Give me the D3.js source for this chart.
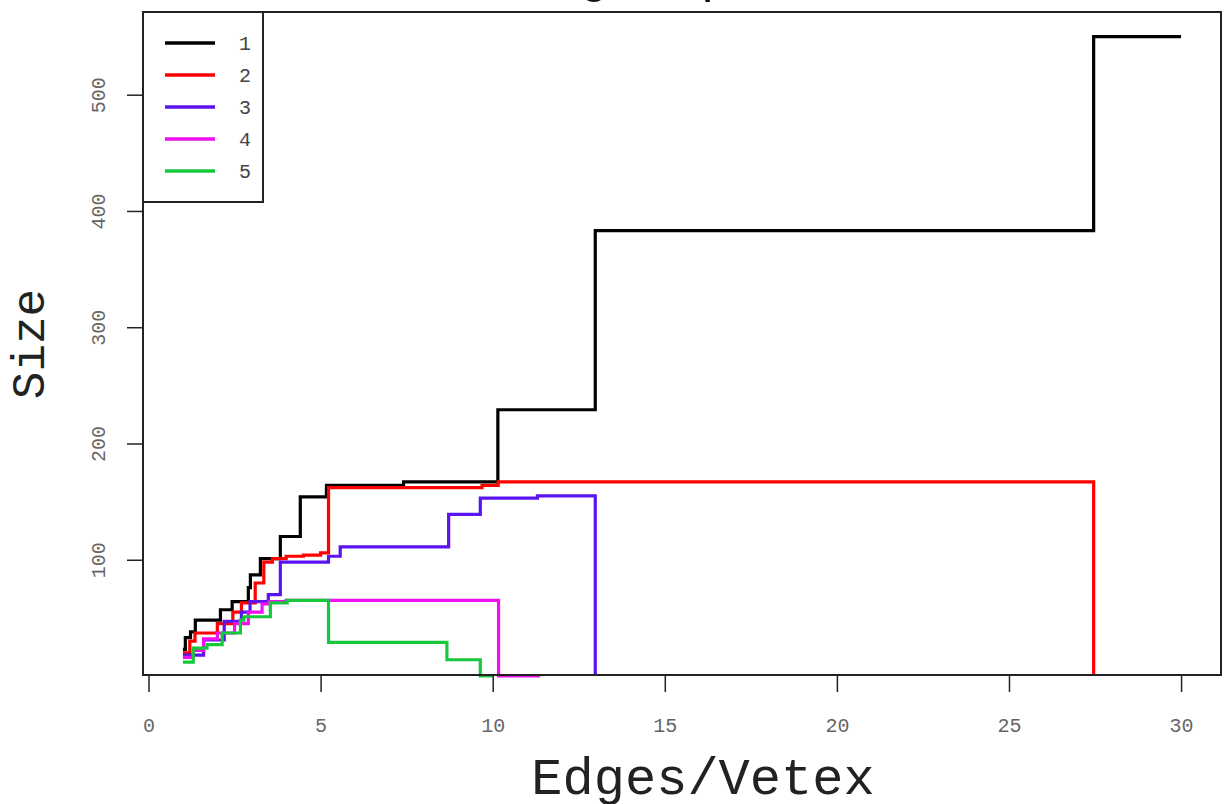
<!DOCTYPE html>
<html>
<head>
<meta charset="utf-8">
<script src="https://cdn.jsdelivr.net/npm/d3@7"></script>
<style>
  body { margin: 0; background: #fff; }
  text { font-family: "Liberation Mono", "DejaVu Sans Mono", monospace; }
</style>
</head>
<body>
<div class="chart"></div>
<script>
// series data: step start points (x = edges/vertex, y = size)
var s1x = [1.0, 1.07, 1.22, 1.36, 2.09, 2.43, 2.9, 2.96, 3.25, 3.83, 4.41, 5.17, 7.41, 10.15, 12.98, 27.46, 30];
var s1y = [23, 33, 38, 48, 57, 64, 76, 87, 101, 120, 154, 164, 167, 229, 383, 550, 550];

var s2x = [1.0, 1.2, 1.35, 2.0, 2.45, 2.7, 3.1, 3.35, 3.6, 4.0, 4.5, 5.0, 5.23, 9.69, 10.16, 27.46];
var s2y = [20, 30, 37, 45, 55, 63, 80, 98, 101, 103, 104, 106, 162, 164, 167, 0];

var s3x = [1.0, 1.6, 2.2, 2.7, 2.95, 3.48, 3.83, 5.23, 5.57, 8.72, 9.64, 11.3, 12.98];
var s3y = [18, 31, 47, 55, 64, 70, 98, 103, 111, 139, 153, 155, 0];

var s4x = [1.0, 1.3, 1.6, 2.0, 2.5, 2.9, 3.3, 3.5, 4.0, 10.17, 11.38];
var s4y = [16, 22, 32, 37, 45, 55, 62, 64, 65, 0, 0];

var s5x = [1.0, 1.3, 1.7, 2.14, 2.67, 2.77, 3.54, 4.03, 5.23, 8.67, 9.64, 10.0];
var s5y = [12, 24, 27, 37, 48, 51, 63, 65, 29, 14, 0, 0];

var seriesNames = ["1", "2", "3", "4", "5"];
var seriesColors = ["#000000", "#ff0000", "#5a14f0", "#ee10ee", "#18c83c"];

var xTicks = [0, 5, 10, 15, 20, 25, 30];
var yTicks = [100, 200, 300, 400, 500];

var W = 1226, H = 804;
var plot = {left: 143, right: 1221, top: 12, bottom: 675};

var svg = d3.select(".chart").append("svg")
    .attr("width", W)
    .attr("height", H);

// R style 4% padding around data range
var xr = [1, 30], yr = [22, 550];
var x = d3.scaleLinear()
    .domain([xr[0] - 0.04 * (xr[1] - xr[0]), xr[1] + 0.04 * (xr[1] - xr[0])])
    .range([plot.left, plot.right]);
var y = d3.scaleLinear()
    .domain([yr[0] - 0.04 * (yr[1] - yr[0]), yr[1] + 0.04 * (yr[1] - yr[0])])
    .range([plot.bottom, plot.top]);

// title (only the descenders show above the frame)
svg.append("text")
    .text("Max group size")
    .attr("x", 456)
    .attr("y", -9)
    .attr("font-size", 51)
    .attr("fill", "#111");

// the lines
var line = d3.line()
    .curve(d3.curveStepAfter)
    .x(function(d) { return x(d[0]); })
    .y(function(d) { return y(d[1]); });

var all = [[s1x, s1y], [s2x, s2y], [s3x, s3y], [s4x, s4y], [s5x, s5y]];
all.forEach(function(s, i) {
    var pts = s[0].map(function(v, j) { return [v, s[1][j]]; });
    svg.append("path")
        .attr("d", line(pts))
        .attr("fill", "none")
        .attr("stroke", seriesColors[i])
        .attr("stroke-width", 3.2);
});

// frame
svg.append("rect")
    .attr("x", plot.left)
    .attr("y", plot.top)
    .attr("width", plot.right - plot.left)
    .attr("height", plot.bottom - plot.top)
    .attr("fill", "none")
    .attr("stroke", "#222")
    .attr("stroke-width", 2);

// x axis
var xAxis = d3.axisBottom(x)
    .tickValues(xTicks)
    .tickSize(17)
    .tickPadding(26);
var gx = svg.append("g")
    .attr("transform", "translate(0," + plot.bottom + ")")
    .call(xAxis);
gx.select(".domain").remove();
gx.selectAll("line").attr("stroke", "#222").attr("stroke-width", 1.5);
gx.selectAll("text")
    .attr("font-family", "Liberation Mono")
    .attr("font-size", 20)
    .attr("fill", "#666");

// y axis
var yAxis = d3.axisLeft(y)
    .tickValues(yTicks)
    .tickSize(16);
var gy = svg.append("g")
    .attr("transform", "translate(" + plot.left + ",0)")
    .call(yAxis);
gy.select(".domain").remove();
gy.selectAll("line").attr("stroke", "#222").attr("stroke-width", 1.5);
gy.selectAll("text")
    .attr("font-family", "Liberation Mono")
    .attr("font-size", 20)
    .attr("fill", "#666")
    .attr("text-anchor", "middle")
    .attr("dy", null)
    .attr("x", 0)
    .attr("transform", "translate(-45,0) rotate(-90)")
    .attr("y", 7);

// axis titles
svg.append("text")
    .text("Edges/Vetex")
    .attr("x", 703)
    .attr("y", 794)
    .attr("text-anchor", "middle")
    .attr("font-size", 52)
    .attr("fill", "#222");

svg.append("text")
    .text("Size")
    .attr("text-anchor", "middle")
    .attr("font-size", 46)
    .attr("fill", "#222")
    .attr("transform", "translate(44,344) rotate(-90)");

// legend
var legend = svg.append("g");
legend.append("rect")
    .attr("x", plot.left)
    .attr("y", plot.top)
    .attr("width", 120)
    .attr("height", 190)
    .attr("fill", "#fff")
    .attr("stroke", "#222")
    .attr("stroke-width", 2);
seriesNames.forEach(function(n, i) {
    var ly = 43 + i * 32;
    legend.append("line")
        .attr("x1", 165).attr("x2", 215)
        .attr("y1", ly).attr("y2", ly)
        .attr("stroke", seriesColors[i])
        .attr("stroke-width", 3.5);
    legend.append("text")
        .text(n)
        .attr("x", 245)
        .attr("y", ly + 7)
        .attr("text-anchor", "middle")
        .attr("font-size", 20)
        .attr("fill", "#444");
});
</script>
</body>
</html>
